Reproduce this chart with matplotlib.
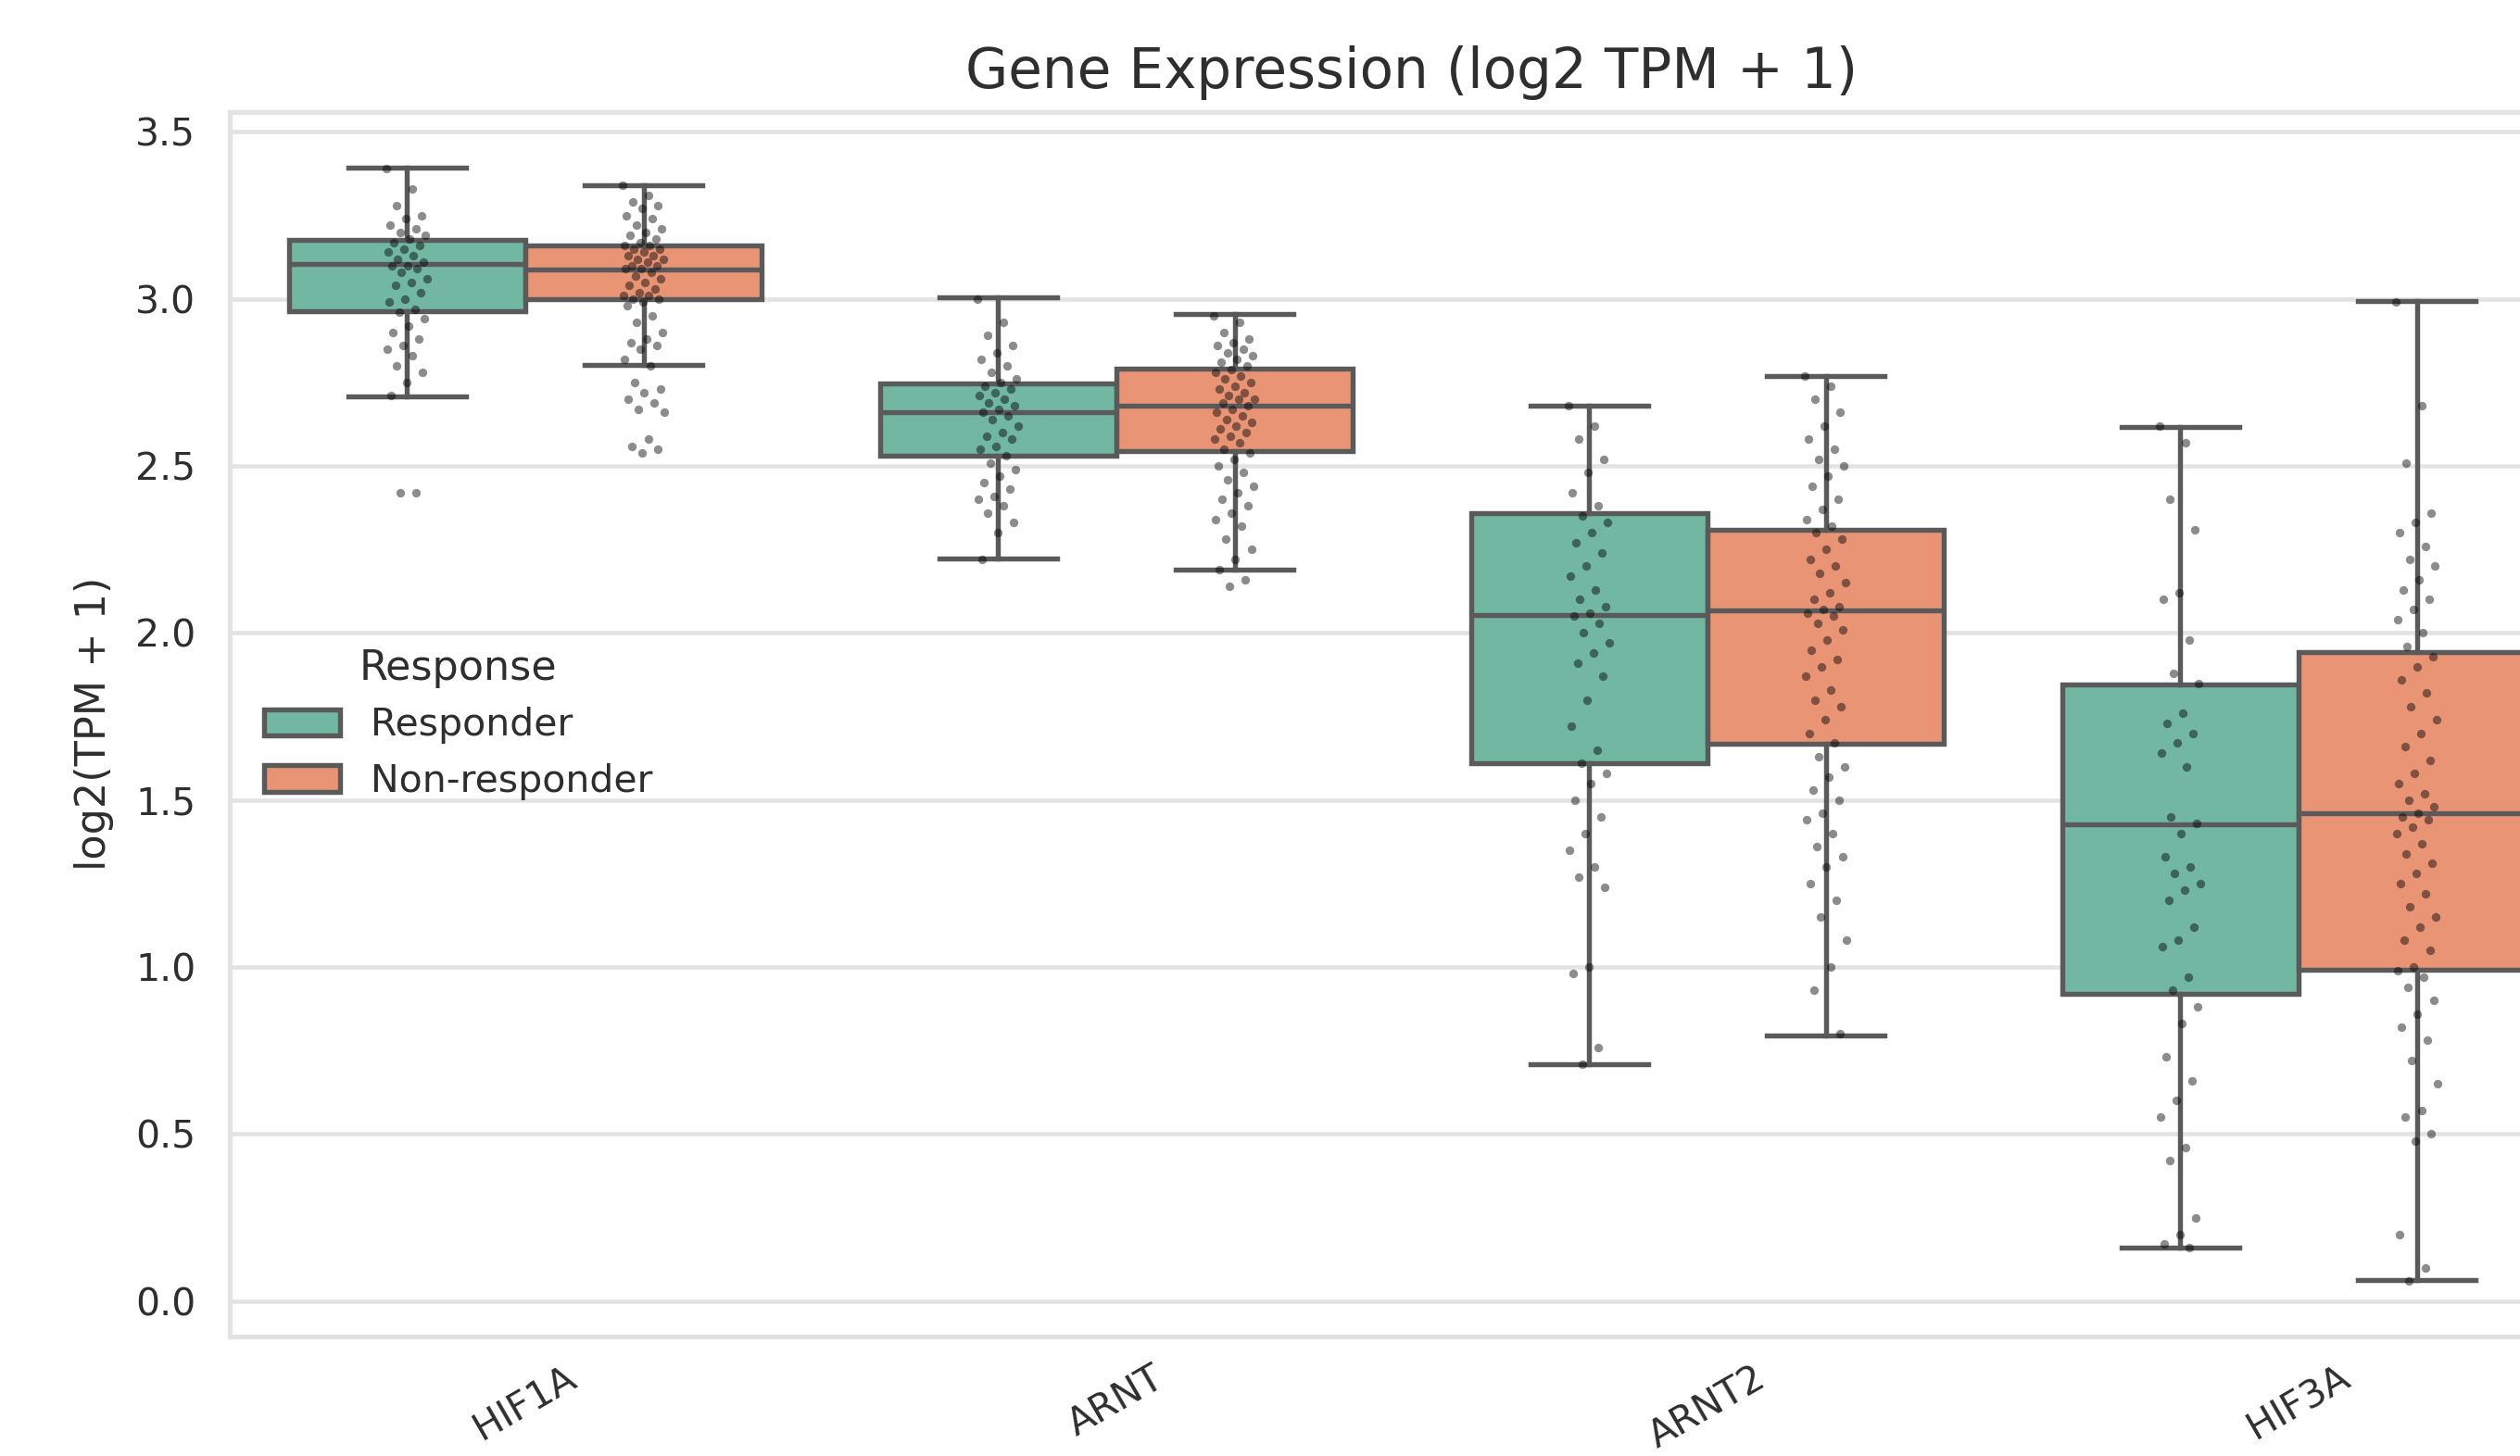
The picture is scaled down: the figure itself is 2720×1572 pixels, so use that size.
import matplotlib
matplotlib.use("Agg")
import matplotlib.pyplot as plt
from matplotlib.patches import Patch

# ---------------- data ----------------
genes = ["HIF1A", "ARNT", "ARNT2", "HIF3A"]
groups = ["Responder", "Non-responder"]

# box statistics: [HIF1A, ARNT, ARNT2, HIF3A]
resp_whislo = [2.707, 2.223, 0.709, 0.159]
resp_q1 = [2.964, 2.531, 1.610, 0.921]
resp_med = [3.105, 2.661, 2.054, 1.427]
resp_q3 = [3.177, 2.748, 2.358, 1.847]
resp_whishi = [3.393, 3.004, 2.681, 2.618]

nonr_whislo = [2.804, 2.189, 0.796, 0.063]
nonr_q1 = [3.000, 2.546, 1.668, 0.993]
nonr_med = [3.088, 2.681, 2.068, 1.461]
nonr_q3 = [3.160, 2.792, 2.310, 1.943]
nonr_whishi = [3.340, 2.956, 2.768, 2.994]

# individual samples (strip points)
resp_hif1a = [3.39, 3.33, 3.28, 3.25, 3.24, 3.22, 3.21, 3.20, 3.19, 3.18, 3.17, 3.16,
              3.15, 3.14, 3.13, 3.12, 3.11, 3.10, 3.10, 3.09, 3.08, 3.06, 3.05, 3.04,
              3.02, 3.00, 2.99, 2.97, 2.96, 2.94, 2.92, 2.90, 2.88, 2.86, 2.85, 2.83,
              2.80, 2.78, 2.75, 2.71, 2.42, 2.42]
nonr_hif1a = [3.34, 3.31, 3.29, 3.28, 3.27, 3.25, 3.24, 3.22, 3.21, 3.20, 3.19, 3.18,
              3.17, 3.16, 3.16, 3.15, 3.15, 3.14, 3.13, 3.13, 3.12, 3.12, 3.11, 3.10,
              3.10, 3.09, 3.09, 3.08, 3.07, 3.06, 3.05, 3.04, 3.03, 3.02, 3.01, 3.01,
              3.00, 3.00, 2.99, 2.98, 2.95, 2.93, 2.90, 2.88, 2.87, 2.86, 2.85, 2.82,
              2.80, 2.75, 2.73, 2.72, 2.70, 2.69, 2.67, 2.66, 2.58, 2.56, 2.55, 2.54]
resp_arnt = [3.00, 2.93, 2.89, 2.86, 2.84, 2.82, 2.80, 2.78, 2.76, 2.75, 2.74, 2.73,
             2.72, 2.71, 2.70, 2.69, 2.68, 2.67, 2.66, 2.65, 2.64, 2.62, 2.60, 2.59,
             2.58, 2.56, 2.55, 2.53, 2.51, 2.49, 2.47, 2.45, 2.43, 2.41, 2.40, 2.38,
             2.36, 2.33, 2.30, 2.22]
nonr_arnt = [2.95, 2.93, 2.90, 2.88, 2.87, 2.86, 2.85, 2.84, 2.83, 2.82, 2.81, 2.80,
             2.79, 2.78, 2.77, 2.76, 2.75, 2.74, 2.73, 2.72, 2.71, 2.70, 2.70, 2.69,
             2.68, 2.67, 2.66, 2.65, 2.64, 2.63, 2.62, 2.61, 2.60, 2.59, 2.58, 2.57,
             2.55, 2.54, 2.52, 2.50, 2.48, 2.46, 2.44, 2.42, 2.40, 2.38, 2.36, 2.34,
             2.32, 2.28, 2.25, 2.22, 2.19, 2.16, 2.14]
resp_arnt2 = [2.68, 2.62, 2.58, 2.52, 2.48, 2.42, 2.38, 2.35, 2.33, 2.30, 2.27, 2.24,
              2.20, 2.17, 2.13, 2.10, 2.08, 2.06, 2.05, 2.03, 2.00, 1.97, 1.94, 1.91,
              1.87, 1.80, 1.72, 1.65, 1.61, 1.58, 1.55, 1.50, 1.45, 1.40, 1.35, 1.30,
              1.27, 1.24, 1.00, 0.98, 0.76, 0.71]
nonr_arnt2 = [2.77, 2.74, 2.70, 2.66, 2.62, 2.58, 2.55, 2.52, 2.50, 2.47, 2.44, 2.40,
              2.37, 2.34, 2.32, 2.30, 2.28, 2.25, 2.22, 2.20, 2.18, 2.15, 2.12, 2.10,
              2.08, 2.07, 2.06, 2.05, 2.03, 2.01, 1.98, 1.95, 1.92, 1.90, 1.87, 1.83,
              1.80, 1.78, 1.74, 1.70, 1.67, 1.63, 1.60, 1.57, 1.53, 1.50, 1.46, 1.44,
              1.40, 1.36, 1.33, 1.30, 1.25, 1.20, 1.15, 1.08, 1.00, 0.93, 0.80]
resp_hif3a = [2.62, 2.57, 2.40, 2.31, 2.12, 2.10, 1.98, 1.88, 1.85, 1.76, 1.73, 1.70,
              1.67, 1.64, 1.60, 1.45, 1.43, 1.40, 1.33, 1.30, 1.28, 1.25, 1.23, 1.20,
              1.12, 1.08, 1.06, 0.97, 0.93, 0.88, 0.83, 0.73, 0.66, 0.60, 0.55, 0.46,
              0.42, 0.25, 0.20, 0.17, 0.16]
nonr_hif3a = [2.99, 2.68, 2.51, 2.36, 2.33, 2.30, 2.26, 2.22, 2.20, 2.16, 2.13, 2.10,
              2.07, 2.04, 2.00, 1.96, 1.93, 1.90, 1.86, 1.82, 1.78, 1.74, 1.70, 1.66,
              1.62, 1.58, 1.55, 1.52, 1.50, 1.48, 1.46, 1.45, 1.44, 1.42, 1.40, 1.37,
              1.34, 1.31, 1.28, 1.25, 1.22, 1.18, 1.15, 1.12, 1.08, 1.05, 1.00, 0.99,
              0.97, 0.94, 0.90, 0.86, 0.82, 0.78, 0.72, 0.65, 0.57, 0.55, 0.50, 0.48,
              0.20, 0.10, 0.06]

resp_points = [resp_hif1a, resp_arnt, resp_arnt2, resp_hif3a]
nonr_points = [nonr_hif1a, nonr_arnt, nonr_arnt2, nonr_hif3a]

title = "Gene Expression (log2 TPM + 1)"
ylabel = "log2(TPM + 1)"
legend_title = "Response"

# ---------------- style ----------------
colors = ["#71b7a1", "#e99575"]
line_c = "#5a5a5a"
grid_c = "#e3e3e3"
text_c = "#2e2e2e"

plt.rcParams["font.family"] = ["DejaVu Sans"]

fig = plt.figure(figsize=(2720 / 300, 1572 / 300), dpi=300)
ax = fig.add_axes([248 / 2720, 1 - 1443 / 1572, 2552 / 2720, (1443 - 120.5) / 1572])

ax.set_xlim(-0.5, len(genes) - 0.5)
ax.set_ylim(-0.106, 3.561)

ax.set_axisbelow(True)
ax.yaxis.grid(True, color=grid_c, linewidth=1.1)
ax.xaxis.grid(False)
for sp in ax.spines.values():
    sp.set_color(grid_c)
    sp.set_linewidth(1.25)

def stats_for(whislo, q1, med, q3, whishi):
    return [dict(whislo=a, q1=b, med=c, q3=d, whishi=e, fliers=[])
            for a, b, c, d, e in zip(whislo, q1, med, q3, whishi)]

box_sets = [
    stats_for(resp_whislo, resp_q1, resp_med, resp_q3, resp_whishi),
    stats_for(nonr_whislo, nonr_q1, nonr_med, nonr_q3, nonr_whishi),
]
offsets = [-0.2, 0.2]
lw = 1.3
for g, (stats, col, off) in enumerate(zip(box_sets, colors, offsets)):
    pos = [i + off for i in range(len(genes))]
    ax.bxp(stats, positions=pos, widths=0.4, capwidths=0.2, patch_artist=True,
           showfliers=False, manage_ticks=False,
           boxprops=dict(facecolor=col, edgecolor=line_c, linewidth=lw),
           whiskerprops=dict(color=line_c, linewidth=lw),
           capprops=dict(color=line_c, linewidth=lw),
           medianprops=dict(color=line_c, linewidth=lw),
           zorder=2)

# strip points with a deterministic jitter pattern
jit = 0.035
for pts_set, off in zip([resp_points, nonr_points], offsets):
    for i, vals in enumerate(pts_set):
        xs = [i + off + ((k * 0.6180339887) % 1.0 - 0.5) * 2 * jit for k in range(len(vals))]
        ax.scatter(xs, vals, s=5, color="black", alpha=0.45, linewidths=0, zorder=3)

ax.set_xticks(range(len(genes)))
ax.set_xticklabels(genes, rotation=30)
ax.set_yticks([0.0, 0.5, 1.0, 1.5, 2.0, 2.5, 3.0, 3.5])
ax.set_yticklabels([f"{v:.1f}" for v in [0.0, 0.5, 1.0, 1.5, 2.0, 2.5, 3.0, 3.5]])
ax.tick_params(axis="both", length=0, labelsize=9.85, colors=text_c)
ax.tick_params(axis="y", pad=8.8)
ax.tick_params(axis="x", pad=6)

ax.set_ylabel(ylabel, fontsize=10.7, color=text_c, labelpad=5.5)
ax.set_title(title, fontsize=14.3, color=text_c, pad=6)

handles = [Patch(facecolor=c, edgecolor=line_c, linewidth=lw, label=l)
           for c, l in zip(colors, groups)]
leg = ax.legend(handles=handles, title=legend_title, loc="center left",
                frameon=False, fontsize=9.85, title_fontsize=10.7)
for t in leg.get_texts():
    t.set_color(text_c)
leg.get_title().set_color(text_c)

fig.savefig("out.png", dpi=300)
